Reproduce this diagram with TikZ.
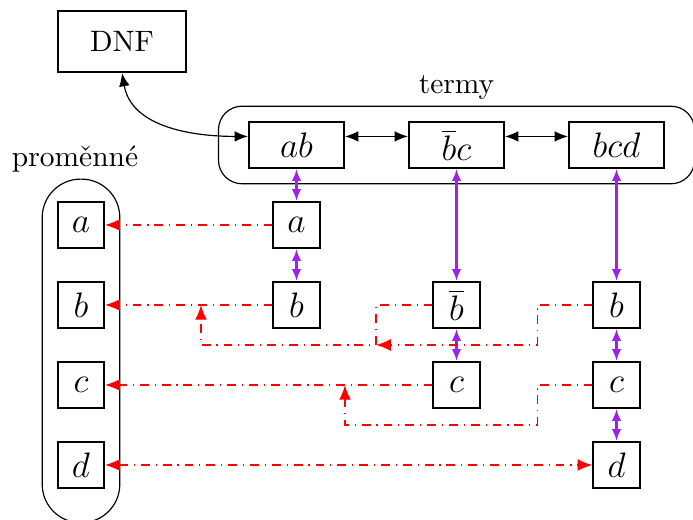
\documentclass[tikz,border=0pt]{standalone}
\usepackage{fontspec}
\usetikzlibrary{arrows.meta, positioning, fit}
\definecolor{occviolet}{RGB}{160,32,240}
\tikzset{
  box/.style   = {draw, rectangle, semithick, font=\large, inner sep=2pt,
                  minimum size=15.7pt},
  term/.style  = {box, minimum width=32.3pt},
  top/.style   = {box, font=\normalsize, minimum width=43.5pt, minimum height=20.8pt},
  group/.style = {draw, thin, rounded corners=8pt, inner xsep=10pt, inner ysep=5pt},
  lbl/.style   = {inner sep=2pt},
  link/.style  = {{Latex[length=4.5pt, width=3.6pt]}-{Latex[length=4.5pt, width=3.6pt]}, thin},
  occ/.style   = {{Latex[length=4pt, width=3.2pt]}-{Latex[length=4pt, width=3.2pt]},
                  line width=0.7pt, occviolet},
  ref/.style   = {-{Latex[length=5pt, width=4pt]}, red, dashdotted, line width=0.5pt},
  refboth/.style = {ref, {Latex[length=5pt, width=4pt]}-{Latex[length=5pt, width=4pt]}}
}
\begin{document}
\begin{tikzpicture}[x=0.339pt, y=-0.339pt]
  \useasboundingbox (0,0) rectangle (693,520);

  % ── Formula and its terms ─────────────────────────────────────────────────
  \node[top]              (DNF) at (122,41.5) {DNF};
  \node[term]             (ab)  at (296.5,145) {$ab$};
  \node[term]             (bnc) at (456.5,145) {$\overline{b}c$};
  \node[term]             (bcd) at (616.5,145) {$bcd$};
  \node[group, fit=(ab)(bcd)] (terms) {};
  \node[lbl, above=0pt of terms] {termy};

  % ── Variables ─────────────────────────────────────────────────────────────
  \node[box] (va) at (81,225) {$a$};
  \node[box] (vb) at (81,305) {$b$};
  \node[box] (vc) at (81,385) {$c$};
  \node[box] (vd) at (81,465) {$d$};
  \node[group, fit=(va)(vd), inner xsep=5pt, inner ysep=9.4pt,
        rounded corners=13pt, yshift=-2pt] (vars) {};
  \node[lbl, above=0pt of vars, xshift=-2pt] {proměnné};

  % ── Occurrences in the terms ──────────────────────────────────────────────
  \node[box] (a1)  at (296.5,225) {$a$};
  \node[box] (b1)  at (296.5,305) {$b$};
  \node[box] (nb2) at (456.5,305) {$\overline{b}$};
  \node[box] (c2)  at (456.5,385) {$c$};
  \node[box] (b3)  at (616.5,305) {$b$};
  \node[box] (c3)  at (616.5,385) {$c$};
  \node[box] (d3)  at (616.5,465) {$d$};

  % join points on the variable lines
  \coordinate (jb)  at (201,305);
  \coordinate (jbn) at (376,345);
  \coordinate (jc)  at (345,385);

  % ── Connections ───────────────────────────────────────────────────────────

  % term list
  \draw[link] (DNF.south) to[out=-80, in=180] (ab.170);
  \draw[link] (ab.10)  -- (bnc.170);
  \draw[link] (bnc.10) -- (bcd.170);

  % term -> occurrences
  \draw[occ] (ab)  -- (a1);
  \draw[occ] (a1)  -- (b1);
  \draw[occ] (bnc) -- (nb2);
  \draw[occ] (nb2) -- (c2);
  \draw[occ] (bcd) -- (b3);
  \draw[occ] (b3)  -- (c3);
  \draw[occ] (c3)  -- (d3);

  % occurrences -> variables
  \draw[ref] (a1) -- (va);
  \draw[ref] (b1) -- (vb);
  \draw[ref] (nb2.west) -| (jbn) -| (jb);
  \draw[ref] (b3.west) -- ++(-55,0) |- (jbn);
  \draw[ref] (c2) -- (vc);
  \draw[ref] (c3.west) -- ++(-55,0) -- ++(0,40) -| (jc);
  \draw[refboth] (vd) -- (d3);

\end{tikzpicture}
\end{document}
